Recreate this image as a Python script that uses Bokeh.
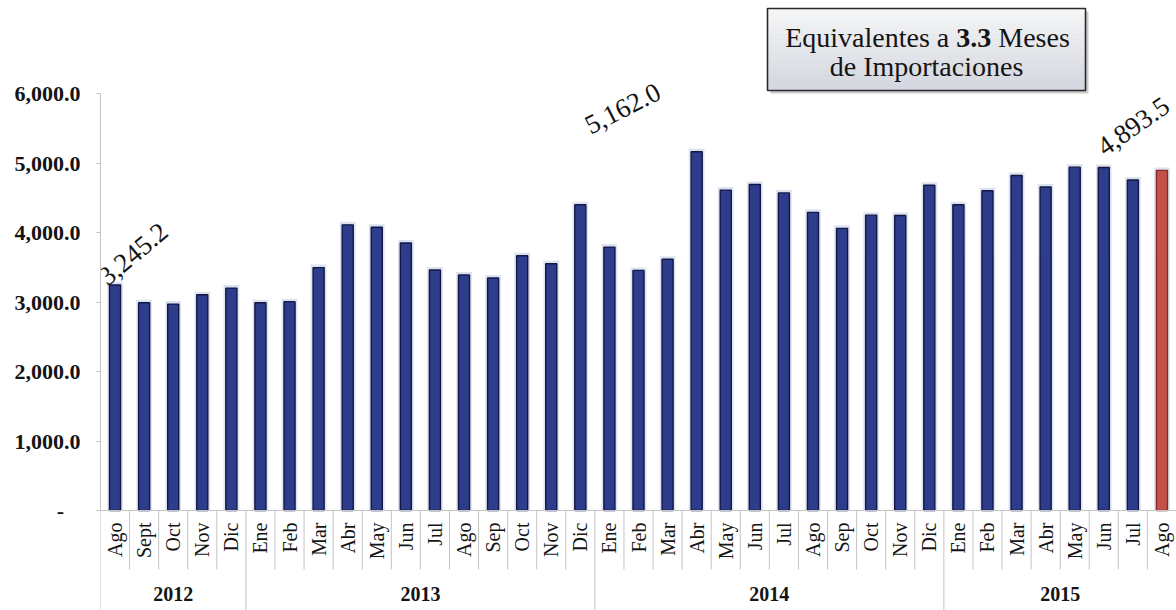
import math
import numpy as np
from bokeh.plotting import figure
from bokeh.models import Range1d, FixedTicker, NumeralTickFormatter, ColumnDataSource
from bokeh.core.properties import value
from bokeh.embed import file_html
from bokeh.resources import INLINE

# ---------------- data ----------------
years = ["2012"] * 5 + ["2013"] * 12 + ["2014"] * 12 + ["2015"] * 8
months = ["Ago", "Sept", "Oct", "Nov", "Dic",
          "Ene", "Feb", "Mar", "Abr", "May", "Jun", "Jul", "Ago", "Sep", "Oct", "Nov", "Dic",
          "Ene", "Feb", "Mar", "Abr", "May", "Jun", "Jul", "Ago", "Sep", "Oct", "Nov", "Dic",
          "Ene", "Feb", "Mar", "Abr", "May", "Jun", "Jul", "Ago"]
reserves = [3245.2, 2990, 2970, 3105, 3200,
            2990, 3005, 3495, 4110, 4075, 3850, 3460, 3390, 3345, 3665, 3550, 4400,
            3790, 3455, 3615, 5162.0, 4610, 4690, 4570, 4290, 4060, 4250, 4245, 4680,
            4400, 4600, 4820, 4655, 4940, 4935, 4755, 4893.5]
labelled = [0, 20, 36]
y_ticks = [0, 1000, 2000, 3000, 4000, 5000, 6000]
box_line1 = ["Equivalentes a", "3.3", "Meses"]
box_line2 = "de Importaciones"

# ---------------- layout constants ----------------
FIG_W, FIG_H = 1176, 610
FRAME_L = 100           # frame left edge (px)
PX_PER_UNIT = 0.0695    # pixels per unit of value
BASE_PX = 510           # px y of value 0
n = len(reserves)
cat_px = (FIG_W - FRAME_L) / n

def dy(px):
    return px / PX_PER_UNIT

def dx(px):
    return px / cat_px

def px_x(ix):
    return (ix - FRAME_L) / cat_px - 0.5

def px_y(iy):
    return (BASE_PX - iy) / PX_PER_UNIT

y_top = BASE_PX / PX_PER_UNIT
y_bot = -(FIG_H - BASE_PX) / PX_PER_UNIT

SERIF = value("Liberation Serif")
TXT = "#141414"
GRID = "#c4c4c4"

p = figure(width=FIG_W, height=FIG_H,
           x_range=Range1d(-0.5, n - 0.5), y_range=Range1d(y_bot, y_top),
           output_backend="svg", toolbar_location=None, x_axis_location=None,
           min_border_left=FRAME_L, min_border_right=0, min_border_top=0, min_border_bottom=0)
p.outline_line_color = None
p.grid.visible = False
p.background_fill_color = "white"
p.border_fill_color = "white"

# y axis
ya = p.yaxis[0]
ya.ticker = FixedTicker(ticks=y_ticks)
ya.bounds = (0, 6000)
ya.formatter = NumeralTickFormatter(format="0,0.0")
ya.major_label_overrides = {0: "-" + "\u00a0" * 3}
ya.axis_line_color = GRID
ya.major_tick_line_color = GRID
ya.major_tick_out = 4
ya.major_tick_in = 0
ya.minor_tick_line_color = None
ya.major_label_standoff = 16
ya.major_label_text_font = "Liberation Serif"
ya.major_label_text_font_style = "bold"
ya.major_label_text_font_size = "22px"
ya.major_label_text_color = TXT

# ---------------- bars ----------------
x = np.arange(n)
fills = ["#2E3C8C"] * (n - 1) + ["#C4524C"]
lines = ["#121746"] * (n - 1) + ["#8A2A28"]
src = ColumnDataSource(dict(x=x, top=reserves, glow=np.array(reserves) + dy(3), fill=fills, line=lines))
p.vbar(x="x", top="glow", bottom=0, width=0.54, source=src, fill_color="#cfd5e8", fill_alpha=0.7, line_color=None)
p.vbar(x="x", top="top", bottom=0, width=0.38, source=src, fill_color="fill", line_color="line", line_width=1.4)

# ---------------- category axis (drawn) ----------------
p.segment(x0=-0.5, x1=n - 0.5, y0=0, y1=0, line_color=GRID, line_width=1)
bounds = np.arange(n + 1) - 0.5
year_breaks = [0] + [i for i in range(1, n) if years[i] != years[i - 1]] + [n]
month_b = [b for k, b in enumerate(bounds) if k not in year_breaks]
year_b = [bounds[k] for k in year_breaks]
p.segment(x0=month_b, x1=month_b, y0=[0] * len(month_b), y1=[-dy(59)] * len(month_b),
          line_color=GRID, line_width=1)
p.segment(x0=year_b, x1=year_b, y0=[0] * len(year_b), y1=[y_bot] * len(year_b),
          line_color=GRID, line_width=1)

p.text(x=x, y=[-dy(12)] * n, text=months, angle=math.pi / 2,
       text_align="right", text_baseline="middle",
       text_font=SERIF, text_font_size=value("20px"), text_color=TXT)

year_names = []
year_centers = []
for a, b in zip(year_breaks[:-1], year_breaks[1:]):
    year_names.append(years[a])
    year_centers.append((a + b - 1) / 2)
p.text(x=year_centers, y=[-dy(83)] * len(year_centers), text=year_names,
       text_align="center", text_baseline="middle",
       text_font=SERIF, text_font_style="bold", text_font_size=value("20px"), text_color=TXT)

# ---------------- value labels ----------------
lab_dx = [-13, -110, -62]
lab_dy = [5, 25, 21]
lab_ang = [40, 27, 35]
p.text(x=[labelled[k] + dx(lab_dx[k]) for k in range(3)],
       y=[reserves[labelled[k]] + dy(lab_dy[k]) for k in range(3)],
       text=[f"{reserves[i]:,.1f}" for i in labelled],
       angle=[math.radians(a) for a in lab_ang],
       text_align="left", text_baseline="alphabetic",
       text_font=SERIF, text_font_size=value("27px"), text_color=TXT)

# ---------------- text box ----------------
BL, BR, BT, BB = 767, 1085, 8, 90
p.quad(left=px_x(BL + 3), right=px_x(BR + 3), top=px_y(BT + 3), bottom=px_y(BB + 3),
       fill_color="#8c8c8c", fill_alpha=0.45, line_color=None)
strips = 16
c0 = np.array([0xf5, 0xf5, 0xf6])
c1 = np.array([0xd4, 0xd8, 0xe0])
for s in range(strips):
    t = s / (strips - 1)
    c = (c0 * (1 - t) + c1 * t).astype(int)
    col = "#%02x%02x%02x" % tuple(c)
    y0 = BT + (BB - BT) * s / strips
    y1 = BT + (BB - BT) * (s + 1) / strips
    p.quad(left=px_x(BL), right=px_x(BR), top=px_y(y0), bottom=px_y(y1 + 0.5),
           fill_color=col, line_color=None)
p.quad(left=px_x(BL), right=px_x(BR), top=px_y(BT), bottom=px_y(BB),
       fill_color=None, line_color="#2a2a2a", line_width=1.6)

FS = 28
em = FS
start = 927 - (5.86 + 0.25 + 1.25 + 0.25 + 2.555) * em / 2
xs = [start, start + 6.11 * em, start + (6.11 + 1.25 + 0.25) * em]
styles = ["normal", "bold", "normal"]
for txt, xx, st in zip(box_line1, xs, styles):
    p.text(x=[px_x(xx)], y=[px_y(37)], text=[txt], text_align="left", text_baseline="alphabetic",
           text_font=SERIF, text_font_style=st, text_font_size=value(f"{FS}px"), text_color=TXT)
p.text(x=[px_x(926)], y=[px_y(66)], text=[box_line2], text_align="center", text_baseline="alphabetic",
       text_font=SERIF, text_font_size=value(f"{FS}px"), text_color=TXT)

open("out.html", "w").write(file_html(p, INLINE))
